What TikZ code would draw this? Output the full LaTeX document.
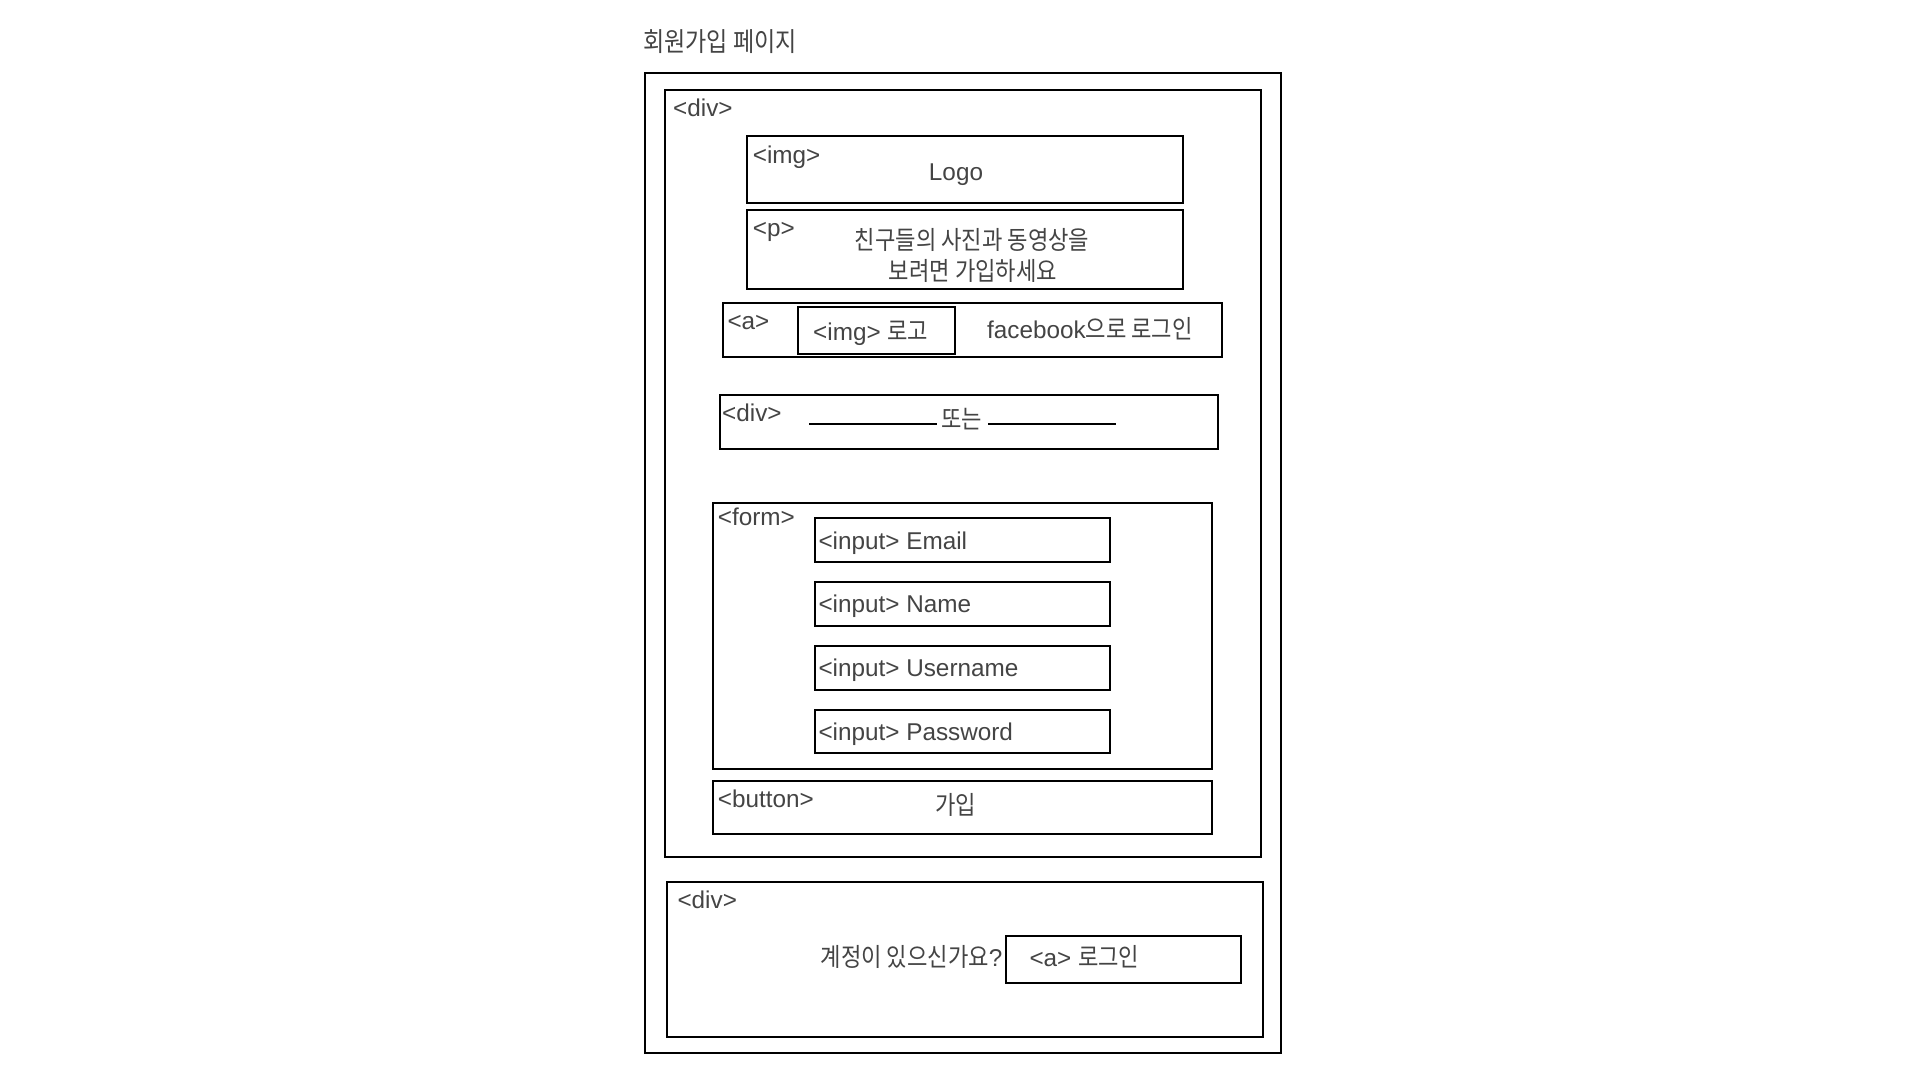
\documentclass[tikz,border=0pt]{standalone}
\usepackage{fontspec}
\setmainfont{Liberation Sans}
\newfontfamily\kr[FakeStretch=0.87]{Noto Sans CJK KR}
\definecolor{txt}{HTML}{444444}
\newcommand{\krs}{\kr\fontsize{25.5}{30}\selectfont}
\tikzset{
  box/.style={draw=black, line width=1.8pt},
  lbl/.style={anchor=base west, inner sep=0pt, text=txt, font=\fontsize{24.3}{28}\selectfont},
  clbl/.style={anchor=base, inner sep=0pt, text=txt, font=\fontsize{24.3}{28}\selectfont},
  krl/.style={anchor=base, inner sep=0pt, text=txt, font=\krs},
}
\begin{document}
\begin{tikzpicture}[x=1pt,y=-1pt]
\useasboundingbox (0,0) rectangle (1920,1080);
\fill[white] (0,0) rectangle (1920,1080);
% title
\node[lbl, anchor=base west, font=\kr\fontsize{26.5}{30}\selectfont] (title) at (643,51) {회원가입 페이지};
% boxes
\draw[box] (644.7,72.7) rectangle (1280.7,1053.3);
\draw[box] (665,90) rectangle (1260.7,856.7);
\draw[box] (746.7,136) rectangle (1182.7,202.7);
\draw[box] (746.7,210) rectangle (1182.7,288.7);
\draw[box] (723,303) rectangle (1221.7,356.7);
\draw[box] (798,307) rectangle (955,354);
\draw[box] (720,395) rectangle (1218.3,449.3);
\draw[box] (713.3,503.3) rectangle (1211.7,769.3);
\draw[box] (814.7,517.7) rectangle (1110,561.7);
\draw[box] (814.7,581.7) rectangle (1110,625.7);
\draw[box] (814.7,645.7) rectangle (1110,689.7);
\draw[box] (814.7,710) rectangle (1110,753.3);
\draw[box] (713.3,780.7) rectangle (1211.7,834.3);
\draw[box] (666.7,882.3) rectangle (1262.7,1036.7);
\draw[box] (1005.7,936) rectangle (1240.7,983.3);
% labels
\node[lbl] (divA) at (673,116) {<div>};
\node[lbl] (imgL) at (752.7,163.3) {<img>};
\node[clbl] (logo) at (956,180) {Logo};
\node[lbl] (pL) at (752.7,236.7) {<p>};
\node[krl] (p1) at (972,249) {친구들의 사진과 동영상을};
\node[krl] (p2) at (973,280) {보려면 가입하세요};
\node[lbl] (aL) at (727.3,329) {<a>};
\node[lbl] (imglogo) at (813,340.5) {<img> {\krs 로고}};
\node[lbl, anchor=base east] (fb) at (1193,338) {facebook{\krs 으로 로그인}};
\node[lbl] (divB) at (722,421.7) {<div>};
\node[krl] (or) at (961.7,428) {또는};
\draw[black, line width=1.6pt] (809,424) -- (936.7,424);
\draw[black, line width=1.6pt] (988,424) -- (1116,424);
\node[lbl] (formL) at (717.7,525.3) {<form>};
\node[lbl] (email) at (818.3,549.3) {<input> Email};
\node[lbl] (name) at (818.3,612.7) {<input> Name};
\node[lbl] (uname) at (818.3,676.7) {<input> Username};
\node[lbl] (pw) at (818.3,740) {<input> Password};
\node[lbl] (btnL) at (717.7,807.3) {<button>};
\node[krl] (join) at (955.5,814) {가입};
\node[lbl] (divC) at (677.3,908.3) {<div>};
\node[lbl, anchor=base east] (ask) at (1002.7,966) {{\krs 계정이 있으신가요}?};
\node[lbl] (alogin) at (1029.3,966.7) {<a> {\krs 로그인}};
\end{tikzpicture}
\end{document}
